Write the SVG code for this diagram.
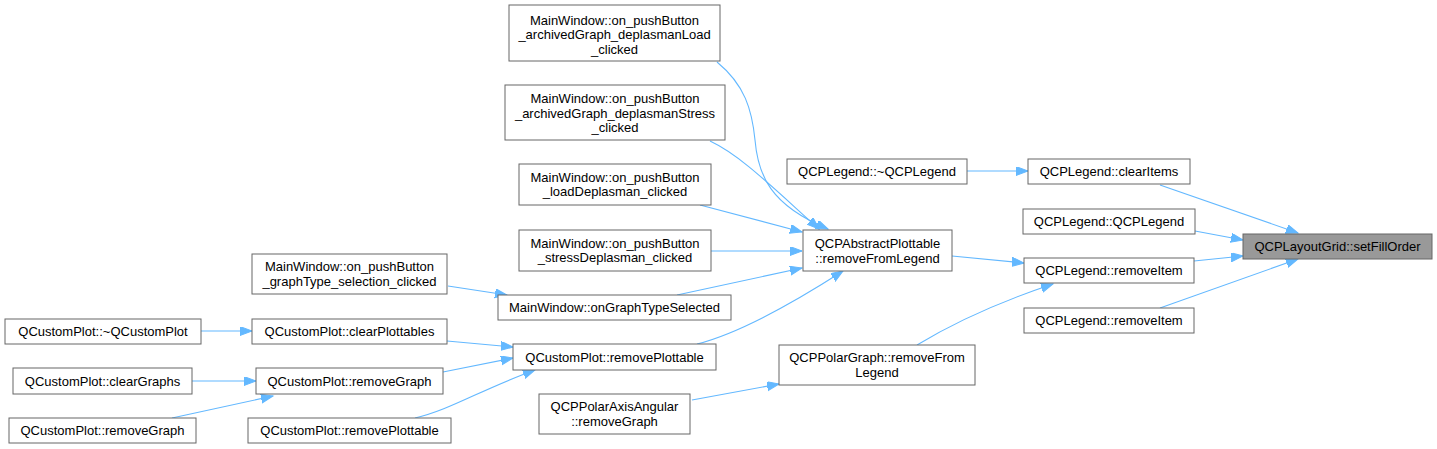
<svg xmlns="http://www.w3.org/2000/svg" width="1437" height="449" viewBox="0 0 1437 449">
<defs>
<marker id="arr" markerWidth="14" markerHeight="10" refX="12" refY="4.5" orient="auto" markerUnits="userSpaceOnUse">
<path d="M0,0 L12,4.5 L0,9 z" fill="#63b8ff" stroke="#63b8ff" stroke-width="1"/>
</marker>
<style>
.n rect{fill:#ffffff;stroke:#666666;stroke-width:1}
.n.hl rect{fill:#999999}
.n text{font-family:"Liberation Sans",Arial,sans-serif;font-size:13px;fill:#000;text-anchor:middle}
.e path{fill:none;stroke:#63b8ff;stroke-width:1.1;marker-end:url(#arr)}
</style>
</defs>
<rect width="1437" height="449" fill="#ffffff"/>
<g id="edges" class="e">
<path d="M1160,185 L1298,233"/>
<path d="M1195,231 L1243,240"/>
<path d="M1194,261 L1243,256"/>
<path d="M1160,308 L1298,259"/>
<path d="M967,171 L1028,171"/>
<path d="M952,256 L1024,263"/>
<path d="M917,345 C950,325 990,305 1053,284"/>
<path d="M717,62 C745,85 752,110 755,140 C758,175 770,205 828,229"/>
<path d="M710,141 C740,155 770,185 819,229"/>
<path d="M700,205 L802,232"/>
<path d="M711,251 L802,251"/>
<path d="M677,295 L802,268"/>
<path d="M697,344 C740,333 790,305 843,271"/>
<path d="M448,286 L507,295"/>
<path d="M201,331 L252,331"/>
<path d="M447,341 L513,347"/>
<path d="M192,381 L256,381"/>
<path d="M172,418 L273,396"/>
<path d="M443,372 L513,358"/>
<path d="M415,418 C450,410 480,390 535,370"/>
<path d="M692,400 L779,384"/>
</g>
<g id="n_setFillOrder" class="n hl"><rect x="1243" y="234" width="189" height="25"/><text x="1337.5" y="251">QCPLayoutGrid::setFillOrder</text></g>
<g id="n_clearItems" class="n"><rect x="1028" y="159" width="162" height="25"/><text x="1109" y="176">QCPLegend::clearItems</text></g>
<g id="n_QCPLegend" class="n"><rect x="1023" y="209" width="172" height="25"/><text x="1109" y="226">QCPLegend::QCPLegend</text></g>
<g id="n_removeItem1" class="n"><rect x="1024" y="258" width="170" height="25"/><text x="1109" y="275">QCPLegend::removeItem</text></g>
<g id="n_removeItem2" class="n"><rect x="1024" y="308" width="170" height="25"/><text x="1109" y="325">QCPLegend::removeItem</text></g>
<g id="n_dtorLegend" class="n"><rect x="787" y="159" width="180" height="25"/><text x="877" y="176">QCPLegend::~QCPLegend</text></g>
<g id="n_absRemoveFromLegend" class="n"><rect x="803" y="230" width="149" height="41"/><text x="877.5" y="247.5">QCPAbstractPlottable</text><text x="877.5" y="262.5">::removeFromLegend</text></g>
<g id="n_polarRemoveFromLegend" class="n"><rect x="779" y="345" width="196" height="40"/><text x="877" y="361.5">QCPPolarGraph::removeFrom</text><text x="877" y="376.5">Legend</text></g>
<g id="n_archLoad" class="n"><rect x="509" y="5" width="211" height="56"/><text x="614.5" y="24.5">MainWindow::on_pushButton</text><text x="614.5" y="39">_archivedGraph_deplasmanLoad</text><text x="614.5" y="53.5">_clicked</text></g>
<g id="n_archStress" class="n"><rect x="505" y="85" width="220" height="55"/><text x="615" y="103">MainWindow::on_pushButton</text><text x="615" y="117.5">_archivedGraph_deplasmanStress</text><text x="615" y="132">_clicked</text></g>
<g id="n_loadDeplasman" class="n"><rect x="519" y="164" width="192" height="41"/><text x="615" y="181.5">MainWindow::on_pushButton</text><text x="615" y="196">_loadDeplasman_clicked</text></g>
<g id="n_stressDeplasman" class="n"><rect x="519" y="230" width="192" height="41"/><text x="615" y="247.5">MainWindow::on_pushButton</text><text x="615" y="262">_stressDeplasman_clicked</text></g>
<g id="n_onGraphTypeSelected" class="n"><rect x="498" y="295" width="233" height="25"/><text x="614.5" y="312">MainWindow::onGraphTypeSelected</text></g>
<g id="n_removePlottableMid" class="n"><rect x="513" y="344" width="203" height="26"/><text x="614.5" y="361.5">QCustomPlot::removePlottable</text></g>
<g id="n_polarAxisAngular" class="n"><rect x="539" y="394" width="151" height="40"/><text x="614.5" y="410.5">QCPPolarAxisAngular</text><text x="614.5" y="425.5">::removeGraph</text></g>
<g id="n_graphTypeSel" class="n"><rect x="252" y="254" width="195" height="40"/><text x="349.5" y="270.5">MainWindow::on_pushButton</text><text x="349.5" y="285.5">_graphType_selection_clicked</text></g>
<g id="n_dtorCustomPlot" class="n"><rect x="5" y="319" width="196" height="25"/><text x="103" y="336">QCustomPlot::~QCustomPlot</text></g>
<g id="n_clearPlottables" class="n"><rect x="252" y="319" width="195" height="25"/><text x="349.5" y="336">QCustomPlot::clearPlottables</text></g>
<g id="n_clearGraphs" class="n"><rect x="13" y="368" width="179" height="26"/><text x="102.5" y="385.5">QCustomPlot::clearGraphs</text></g>
<g id="n_removeGraph" class="n"><rect x="256" y="368" width="187" height="26"/><text x="349.5" y="385.5">QCustomPlot::removeGraph</text></g>
<g id="n_removeGraphLeft" class="n"><rect x="9" y="418" width="187" height="25"/><text x="102.5" y="435">QCustomPlot::removeGraph</text></g>
<g id="n_removePlottableBottom" class="n"><rect x="248" y="418" width="203" height="25"/><text x="349.5" y="435">QCustomPlot::removePlottable</text></g>
</svg>
